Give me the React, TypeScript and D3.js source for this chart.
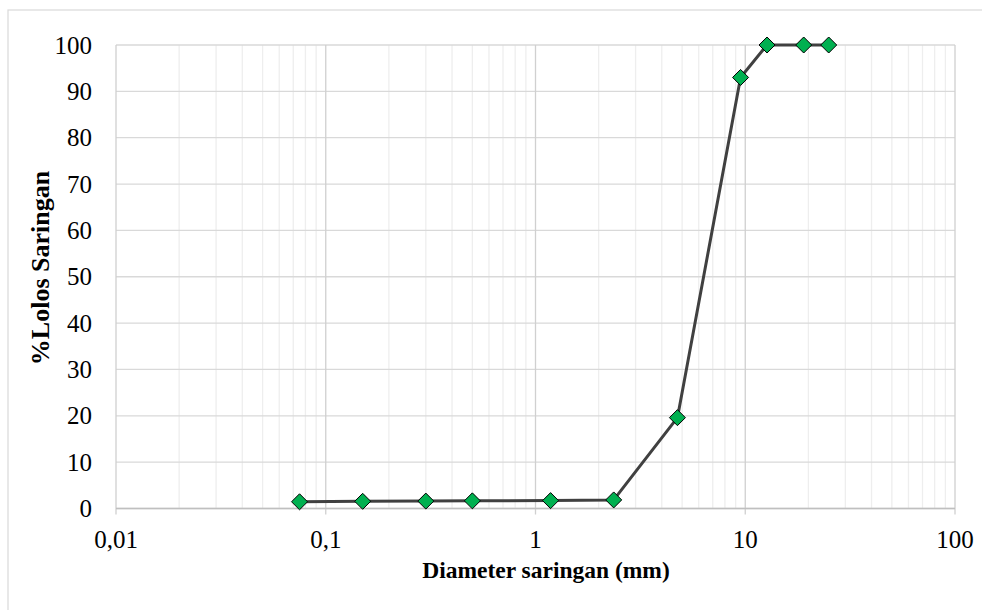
import React from "react";
import * as d3 from "d3";

const diameters = [0.075, 0.15, 0.3, 0.5, 1.18, 2.36, 4.75, 9.5, 12.7, 19, 25];
const passing = [1.45, 1.55, 1.6, 1.65, 1.7, 1.85, 19.6, 93.0, 100, 100, 100];
const xTicks = [0.01, 0.1, 1, 10, 100];
const xTickLabels = ["0,01", "0,1", "1", "10", "100"];
const yTicks = [0, 10, 20, 30, 40, 50, 60, 70, 80, 90, 100];

const W = 982;
const H = 610;
const M = { left: 116, right: 955, top: 45, bottom: 508.5 };

export default function App() {
  const x = d3.scaleLog().domain([0.01, 100]).range([M.left, M.right]);
  const y = d3.scaleLinear().domain([0, 100]).range([M.bottom, M.top]);

  const minor: number[] = [];
  for (let p = -2; p < 2; p++) {
    for (let k = 2; k <= 9; k++) minor.push(k * Math.pow(10, p));
  }

  const line = d3
    .line<number>()
    .x((_, i) => x(diameters[i]))
    .y((d) => y(d));

  const font = "'Liberation Serif', 'Times New Roman', serif";
  const s = 8;

  return (
    <div style={{ position: "absolute", left: 0, top: 0 }}>
      <svg width={W} height={H} style={{ display: "block" }}>
        <rect x={0} y={0} width={W} height={H} fill="#fff" />
        <rect x={8} y={10} width={W + 20} height={H + 20} fill="none" stroke="#d9d9d9" strokeWidth={1.2} />
        {minor.map((m, i) => (
          <line key={"mn" + i} x1={x(m)} x2={x(m)} y1={M.top} y2={M.bottom} stroke="#eeeeee" strokeWidth={1.3} />
        ))}
        {yTicks.map((t) => (
          <line key={"hy" + t} x1={M.left} x2={M.right} y1={y(t)} y2={y(t)} stroke="#d9d9d9" strokeWidth={1.3} />
        ))}
        {xTicks.map((t) => (
          <line key={"vx" + t} x1={x(t)} x2={x(t)} y1={M.top} y2={M.bottom + 6} stroke="#d0d0d0" strokeWidth={1.3} />
        ))}
        <line x1={M.left} x2={M.right} y1={M.bottom} y2={M.bottom} stroke="#bfbfbf" strokeWidth={1.3} />
        {yTicks.map((t) => (
          <text key={"ty" + t} x={92} y={y(t)} dy="0.34em" textAnchor="end" fontFamily={font} fontSize={25} fill="#000">
            {t}
          </text>
        ))}
        {xTicks.map((t, i) => (
          <text key={"tx" + t} x={x(t)} y={548} textAnchor="middle" fontFamily={font} fontSize={25} fill="#000">
            {xTickLabels[i]}
          </text>
        ))}
        <text x={546} y={578} textAnchor="middle" fontFamily={font} fontSize={23.5} fontWeight="bold" fill="#000">
          Diameter saringan (mm)
        </text>
        <text
          transform={`translate(49,268) rotate(-90)`}
          textAnchor="middle"
          fontFamily={font}
          fontSize={26}
          fontWeight="bold"
          fill="#000"
        >
          %Lolos Saringan
        </text>
        <path d={line(passing) || ""} fill="none" stroke="#404040" strokeWidth={3} strokeLinejoin="round" />
        {passing.map((v, i) => {
          const cx = x(diameters[i]);
          const cy = y(v);
          return (
            <path
              key={"m" + i}
              d={`M${cx},${cy - s}L${cx + s},${cy}L${cx},${cy + s}L${cx - s},${cy}Z`}
              fill="#00b050"
              stroke="#000"
              strokeWidth={1}
            />
          );
        })}
      </svg>
    </div>
  );
}
